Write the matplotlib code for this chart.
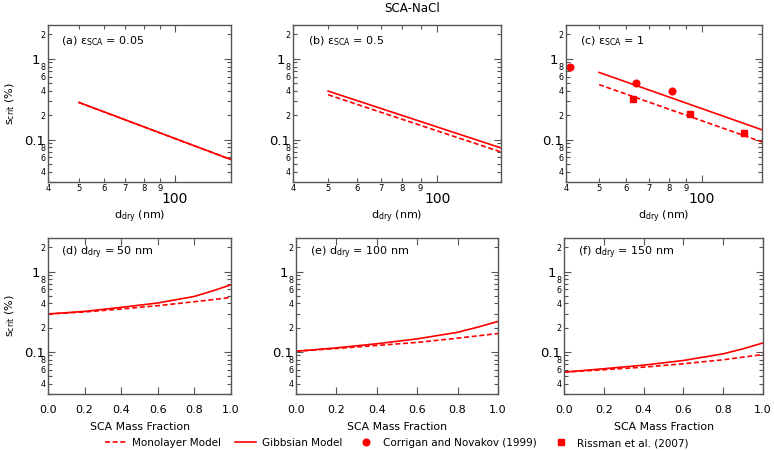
import numpy as np
import matplotlib.pyplot as plt
import matplotlib.transforms as mtransforms
from matplotlib.ticker import FixedLocator, FixedFormatter
from matplotlib.lines import Line2D

plt.rcParams['font.family'] = 'DejaVu Sans'
plt.rcParams['mathtext.default'] = 'regular'

RED = '#ff0000'
SPINE = '#555555'

# top row: critical supersaturation vs dry diameter (nm)
d_model = [50, 150]
s_gibbs_a = [0.288, 0.0565]
s_mono_a = [0.288, 0.0565]
s_gibbs_b = [0.398, 0.0787]
s_mono_b = [0.358, 0.0702]
s_gibbs_c = [0.678, 0.132]
s_mono_c = [0.479, 0.0935]

corrigan_d = [41.1, 64.2, 81.5]
corrigan_s = [0.80, 0.498, 0.399]
rissman_d = [63.0, 92.6, 132.8]
rissman_s = [0.319, 0.209, 0.119]

# bottom row: critical supersaturation vs SCA mass fraction
frac = [0.0, 0.2, 0.4, 0.6, 0.8, 0.9, 1.0]
s_gibbs_d = [0.296, 0.319, 0.358, 0.406, 0.490, 0.575, 0.684]
s_mono_d = [0.296, 0.314, 0.342, 0.376, 0.421, 0.447, 0.476]
s_gibbs_e = [0.1016, 0.112, 0.126, 0.145, 0.175, 0.203, 0.239]
s_mono_e = [0.1016, 0.110, 0.120, 0.131, 0.148, 0.158, 0.169]
s_gibbs_f = [0.0558, 0.0615, 0.0682, 0.078, 0.0944, 0.109, 0.129]
s_mono_f = [0.0558, 0.0598, 0.0644, 0.071, 0.0796, 0.0858, 0.0926]

top_labels = [r'(a) $\varepsilon_{SCA}$ = 0.05', r'(b) $\varepsilon_{SCA}$ = 0.5',
              r'(c) $\varepsilon_{SCA}$ = 1']
bottom_labels = [r'(d) $d_{dry}$ = 50 nm', r'(e) $d_{dry}$ = 100 nm',
                 r'(f) $d_{dry}$ = 150 nm']

W, H = 774, 451
fig = plt.figure(figsize=(W / 100, H / 100), dpi=100)


def px_axes(x0, x1, y0, y1):
    return fig.add_axes([x0 / W, 1 - y1 / H, (x1 - x0) / W, (y1 - y0) / H])


def style_y(ax):
    ax.set_yscale('log')
    ax.set_ylim(0.0298, 2.62)
    ax.yaxis.set_major_locator(FixedLocator([0.1, 1]))
    ax.yaxis.set_major_formatter(FixedFormatter(['0.1', '1']))
    minors = [0.03, 0.04, 0.05, 0.06, 0.07, 0.08, 0.09,
              0.2, 0.3, 0.4, 0.5, 0.6, 0.7, 0.8, 0.9, 2]
    mlabels = ['', '4', '', '6', '', '8', '',
               '2', '', '4', '', '6', '', '8', '', '2']
    ax.yaxis.set_minor_locator(FixedLocator(minors))
    ax.yaxis.set_minor_formatter(FixedFormatter(mlabels))
    ax.tick_params(axis='y', which='major', labelsize=9.5, pad=2)
    ax.tick_params(axis='y', which='minor', labelsize=5.8, pad=2)
    ticks = ax.yaxis.get_major_ticks()
    # the "1" label sits a little further left than the small labels
    ticks[1].set_pad(5.5)
    # nudge "0.1" up a touch so it clears the small "8" below it
    lab = ticks[0].label1
    lab.set_transform(lab.get_transform() +
                      mtransforms.ScaledTranslation(0, 1.5 / 72, fig.dpi_scale_trans))


def style_common(ax):
    for s in ax.spines.values():
        s.set_color(SPINE)
        s.set_linewidth(1.0)
    ax.tick_params(which='both', direction='in', top=True, right=True,
                   color=SPINE, width=0.8)
    ax.tick_params(which='major', length=5)
    ax.tick_params(which='minor', length=3)


top_pos = [(48, 231), (293, 501), (566, 762)]
bot_pos = [(48, 231), (296, 498), (564, 763)]

top_data = [(s_gibbs_a, s_mono_a), (s_gibbs_b, s_mono_b), (s_gibbs_c, s_mono_c)]
bot_data = [(s_gibbs_d, s_mono_d), (s_gibbs_e, s_mono_e), (s_gibbs_f, s_mono_f)]

DASH = (0, (3, 1.6))

for i, (x0, x1) in enumerate(top_pos):
    ax = px_axes(x0, x1, 25, 182)
    g, m = top_data[i]
    ax.plot(d_model, m, color=RED, lw=1.2, ls=DASH)
    ax.plot(d_model, g, color=RED, lw=1.2)
    if i == 2:
        ax.plot(corrigan_d, corrigan_s, 'o', color=RED, ms=4.8, clip_on=False)
        ax.plot(rissman_d, rissman_s, 's', color=RED, ms=4.8, clip_on=False)
    ax.set_xscale('log')
    ax.set_xlim(40, 150)
    ax.xaxis.set_major_locator(FixedLocator([100]))
    ax.xaxis.set_major_formatter(FixedFormatter(['100']))
    ax.xaxis.set_minor_locator(FixedLocator([40, 50, 60, 70, 80, 90]))
    ax.xaxis.set_minor_formatter(FixedFormatter(['4', '5', '6', '7', '8', '9']))
    ax.tick_params(axis='x', which='major', labelsize=10, pad=7)
    ax.tick_params(axis='x', which='minor', labelsize=6, pad=1.5)
    style_y(ax)
    style_common(ax)
    ax.set_xlabel(r'$d_{dry}$ (nm)', fontsize=8, labelpad=2)
    if i == 0:
        ax.set_ylabel(r'$s_{crit}$ (%)', fontsize=8, labelpad=5)
    ax.text(0.07, 0.894, top_labels[i], transform=ax.transAxes,
            fontsize=8, va='center', ha='left')

for i, (x0, x1) in enumerate(bot_pos):
    ax = px_axes(x0, x1, 238, 394)
    g, m = bot_data[i]
    ax.plot(frac, m, color=RED, lw=1.2, ls=DASH)
    ax.plot(frac, g, color=RED, lw=1.2)
    ax.set_xlim(0, 1)
    ax.set_xticks(np.arange(0, 1.01, 0.2))
    ax.set_xticklabels(['0.0', '0.2', '0.4', '0.6', '0.8', '1.0'])
    ax.tick_params(axis='x', labelsize=8, pad=8)
    style_y(ax)
    style_common(ax)
    ax.set_xlabel('SCA Mass Fraction', fontsize=7.8, labelpad=5)
    if i == 0:
        ax.set_ylabel(r'$s_{crit}$ (%)', fontsize=8, labelpad=5)
    ax.text(0.07, 0.904, bottom_labels[i], transform=ax.transAxes,
            fontsize=8, va='center', ha='left')

fig.text(412 / W, 1 - 8 / H, 'SCA-NaCl', ha='center', va='center', fontsize=8.6)

handles = [
    Line2D([], [], color=RED, lw=1.2, ls=DASH),
    Line2D([], [], color=RED, lw=1.2),
    Line2D([], [], color=RED, marker='o', ls='none', ms=4.8),
    Line2D([], [], color=RED, marker='s', ls='none', ms=4.8),
]
names = ['Monolayer Model', 'Gibbsian Model', 'Corrigan and Novakov (1999)',
         'Rissman et al. (2007)']
fig.legend(handles, names, loc='center', bbox_to_anchor=(397 / W, 1 - 443 / H),
           ncol=4, frameon=False, fontsize=7.5, handlelength=2.0,
           handletextpad=0.6, columnspacing=1.3, borderaxespad=0,
           borderpad=0)

fig.savefig('out.png', dpi=100)
